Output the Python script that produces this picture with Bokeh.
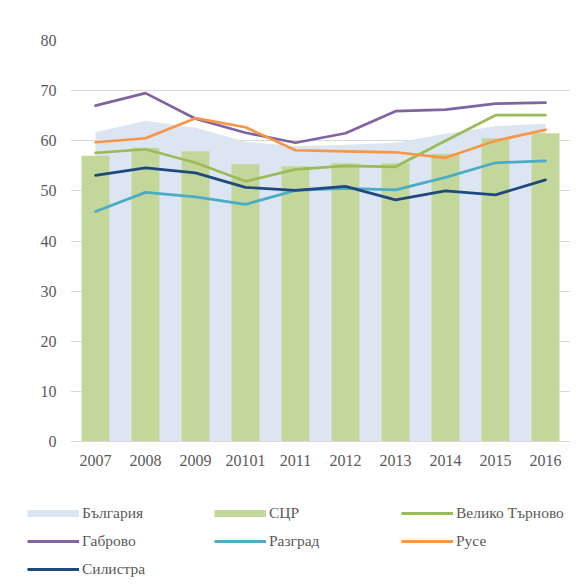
from bokeh.plotting import figure
from bokeh.models import Range1d, Legend, LegendItem, FixedTicker, ColumnDataSource
from bokeh.layouts import column
from bokeh.embed import file_html
from bokeh.resources import INLINE

years = ["2007", "2008", "2009", "20101", "2011", "2012", "2013", "2014", "2015", "2016"]
bulgaria = [61.7, 64.0, 62.6, 59.8, 58.9, 59.2, 59.6, 61.4, 62.9, 63.4]
scr = [57.0, 58.6, 57.9, 55.3, 54.9, 55.5, 55.5, 57.4, 60.5, 61.5]
veliko_tarnovo = [57.6, 58.3, 55.6, 51.9, 54.3, 55.0, 54.8, 60.0, 65.1, 65.1]
gabrovo = [67.0, 69.5, 64.4, 61.6, 59.6, 61.5, 65.9, 66.2, 67.4, 67.6]
razgrad = [45.9, 49.7, 48.8, 47.3, 50.1, 50.5, 50.2, 52.7, 55.6, 56.0]
ruse = [59.7, 60.5, 64.5, 62.7, 58.1, 57.9, 57.7, 56.6, 60.0, 62.2]
silistra = [53.1, 54.6, 53.6, 50.7, 50.1, 50.9, 48.2, 50.0, 49.2, 52.2]
y_ticks = [0, 10, 20, 30, 40, 50, 60, 70, 80]

FONT = "Liberation Serif"
TEXT = "#595959"
GRID = "#d9d9d9"
C_BG = "#DCE6F2"
C_SCR = "#C4D79B"

src = ColumnDataSource(dict(x=years, bg=bulgaria, scr=scr, zero=[0] * len(years)))

p = figure(x_range=years, y_range=Range1d(0, 80), width=570, height=476,
           output_backend="svg", toolbar_location=None,
           min_border_left=70, min_border_right=0, min_border_top=40, min_border_bottom=35)
p.outline_line_color = None
p.background_fill_color = "white"
p.border_fill_color = "white"

p.varea(x="x", y1="zero", y2="bg", source=src, fill_color=C_BG)
p.vbar(x="x", top="scr", width=0.56, source=src, fill_color=C_SCR, line_color=None)

series = [
    ("Велико Търново", veliko_tarnovo, "#9BBB59"),
    ("Габрово", gabrovo, "#8064A2"),
    ("Разград", razgrad, "#4BACC6"),
    ("Русе", ruse, "#F79646"),
    ("Силистра", silistra, "#1F497D"),
]
for name, vals, col in series:
    p.line(years, vals, line_color=col, line_width=2.7, line_join="round", line_cap="round")

p.xgrid.grid_line_color = None
p.ygrid.grid_line_color = GRID
p.ygrid.grid_line_width = 1

p.yaxis.ticker = FixedTicker(ticks=y_ticks)
p.yaxis.axis_line_color = None
p.yaxis.major_tick_line_color = None
p.yaxis.minor_tick_line_color = None
p.yaxis.major_label_standoff = 8
p.yaxis.major_label_text_font = FONT
p.yaxis.major_label_text_font_size = "16px"
p.yaxis.major_label_text_color = TEXT

p.xaxis.axis_line_color = GRID
p.xaxis.axis_line_width = 1
p.xaxis.major_tick_line_color = None
p.xaxis.minor_tick_line_color = None
p.xaxis.major_label_standoff = 7
p.xaxis.major_label_text_font = FONT
p.xaxis.major_label_text_font_size = "16px"
p.xaxis.major_label_text_color = TEXT

# legend panel
q = figure(width=570, height=101, x_range=Range1d(0, 1), y_range=Range1d(0, 1),
           x_axis_type=None, y_axis_type=None, output_backend="svg", toolbar_location=None,
           min_border_left=0, min_border_right=0, min_border_top=0, min_border_bottom=0)
q.frame_align = False
q.outline_line_color = None
q.grid.visible = False

nan = float("nan")
sw_bg = q.line([nan], [nan], line_color=C_BG, line_width=7)
sw_scr = q.line([nan], [nan], line_color=C_SCR, line_width=7)
lg = {}
for name, vals, col in series:
    lg[name] = q.line([nan], [nan], line_color=col, line_width=3)

items = [
    LegendItem(label="България", renderers=[sw_bg]),
    LegendItem(label="СЦР", renderers=[sw_scr]),
    LegendItem(label="Велико Търново", renderers=[lg["Велико Търново"]]),
    LegendItem(label="Габрово", renderers=[lg["Габрово"]]),
    LegendItem(label="Разград", renderers=[lg["Разград"]]),
    LegendItem(label="Русе", renderers=[lg["Русе"]]),
    LegendItem(label="Силистра", renderers=[lg["Силистра"]]),
]
legend = Legend(items=items, orientation="horizontal", ncols=3,
                location=(27, -1), padding=0, margin=0, spacing=10,
                glyph_width=52, glyph_height=18, label_height=18, label_width=122,
                label_standoff=3, label_text_font=FONT, label_text_font_size="15.5px",
                label_text_color=TEXT, background_fill_alpha=0, border_line_color=None)
q.add_layout(legend, "center")

layout = column(p, q, spacing=0)
open("out.html", "w").write(file_html(layout, INLINE))
